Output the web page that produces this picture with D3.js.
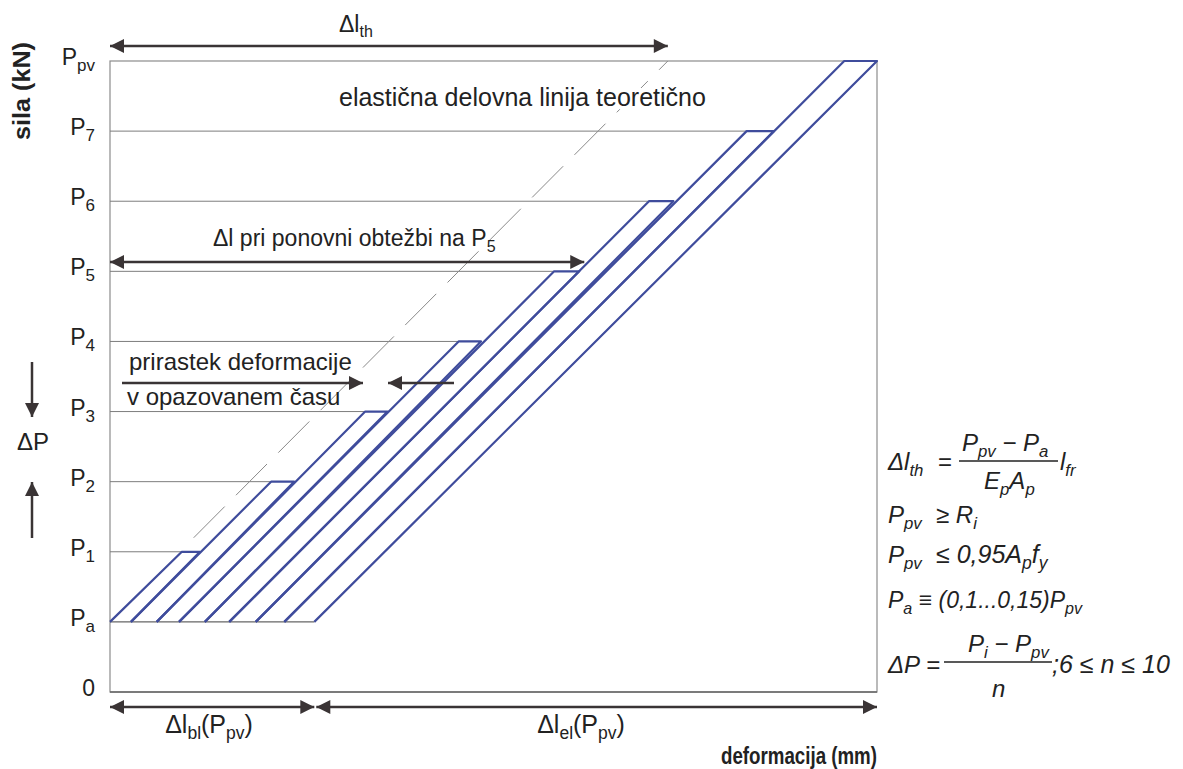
<!DOCTYPE html>
<html>
<head>
<meta charset="utf-8">
<script src="https://cdn.jsdelivr.net/npm/d3@7"></script>
<style>
  body { margin: 0; background: #fff; }
  svg text { font-family: "Liberation Sans", Arial, sans-serif; fill: #222; }
</style>
</head>
<body>
<svg width="1183" height="769"></svg>
<script>
// force levels on the vertical axis, bottom to top
const levelMain = ["0", "P", "P", "P", "P", "P", "P", "P", "P", "P"];
const levelSub  = ["",  "a", "1", "2", "3", "4", "5", "6", "7", "pv"];

// deformation at Pa where each reloading starts
const feet = [0, 0.30, 0.67, 0.99, 1.36, 1.71, 2.09, 2.50, 2.93];
// plateau at the top of each load step
const holdLevel = [2, 3, 4, 5, 6, 7, 8, 9];
const holdStart = [1.03, 2.31, 3.66, 5.00, 6.37, 7.73, 9.13, 10.53];
const holdEnd   = [1.29, 2.64, 3.98, 5.32, 6.73, 8.08, 9.52, 11.0];

// theoretical elastic line (dashed)
const elasticX = [1.2, 8];
const elasticY = [2.2, 9];

const svg = d3.select("svg");
const x = d3.scaleLinear().domain([0, 11]).range([110, 877]);
const y = d3.scaleLinear().domain([0, 9]).range([692, 61]);

const blue = "#3f4c9c";
const dark = "#3a3435";

svg.append("defs").append("marker")
  .attr("id", "head")
  .attr("viewBox", "0 0 10 10")
  .attr("refX", 10).attr("refY", 5)
  .attr("markerUnits", "userSpaceOnUse")
  .attr("markerWidth", 21).attr("markerHeight", 14)
  .attr("orient", "auto-start-reverse")
  .append("path").attr("d", "M0,0L10,5L0,10Z").attr("fill", dark);

function arrow(x1, x2, yy, both) {
  const l = svg.append("line")
    .attr("x1", x1).attr("x2", x2).attr("y1", yy).attr("y2", yy)
    .attr("stroke", dark).attr("stroke-width", 2.5)
    .attr("marker-end", "url(#head)");
  if (both) l.attr("marker-start", "url(#head)");
}

function vArrow(xx, y1, y2) {
  svg.append("line")
    .attr("x1", xx).attr("x2", xx).attr("y1", y1).attr("y2", y2)
    .attr("stroke", dark).attr("stroke-width", 2.5)
    .attr("marker-end", "url(#head)");
}

// frame
svg.append("rect")
  .attr("x", x(0)).attr("y", y(9))
  .attr("width", x(11) - x(0)).attr("height", y(0) - y(9))
  .attr("fill", "none").attr("stroke", "#8c8c8c").attr("stroke-width", 1.2);
svg.append("line")
  .attr("x1", x(0)).attr("x2", x(11)).attr("y1", y(0)).attr("y2", y(0))
  .attr("stroke", "#666").attr("stroke-width", 1.6);

// level lines from the axis to the plateau
svg.selectAll(".lvl").data(holdLevel.slice(0, 7)).join("line")
  .attr("x1", x(0)).attr("x2", (d, i) => x(holdStart[i]))
  .attr("y1", d => y(d)).attr("y2", d => y(d))
  .attr("stroke", "#7d7d7d").attr("stroke-width", 1);
svg.append("line")
  .attr("x1", x(0)).attr("x2", x(feet[feet.length - 1]))
  .attr("y1", y(1)).attr("y2", y(1))
  .attr("stroke", "#666").attr("stroke-width", 1.4);

// dashed theoretical line
svg.append("line")
  .attr("x1", x(elasticX[0])).attr("y1", y(elasticY[0]))
  .attr("x2", x(elasticX[1])).attr("y2", y(elasticY[1]))
  .attr("stroke", "#8a8a8a").attr("stroke-width", 1)
  .attr("stroke-dasharray", "44 16");

// loading / unloading cycles
const line = d3.line().x(d => x(d[0])).y(d => y(d[1]));
holdLevel.forEach((L, i) => {
  const pts = [[feet[i], 1], [holdStart[i], L], [holdEnd[i], L], [feet[i + 1], 1]];
  svg.append("path").attr("d", line(pts))
    .attr("fill", "none").attr("stroke", blue).attr("stroke-width", 2.2)
    .attr("stroke-linejoin", "round");
});

// axis labels with subscripts
const yl = svg.selectAll(".ylab").data(levelMain).join("text")
  .attr("x", 95).attr("y", (d, i) => y(i) + 4)
  .attr("text-anchor", "end").attr("font-size", 23);
yl.append("tspan").text(d => d);
yl.append("tspan").attr("font-size", 17).attr("dy", 6).text((d, i) => levelSub[i]);

svg.append("text")
  .attr("transform", "translate(30,91) rotate(-90)")
  .attr("text-anchor", "middle").attr("font-size", 23).attr("font-weight", "bold")
  .attr("textLength", 98).attr("lengthAdjust", "spacingAndGlyphs")
  .text("sila (kN)");
svg.append("text")
  .attr("x", 877).attr("y", 764).attr("text-anchor", "end")
  .attr("font-size", 24).attr("font-weight", "bold")
  .attr("textLength", 156).attr("lengthAdjust", "spacingAndGlyphs")
  .text("deformacija (mm)");

// ΔP with arrows on the left
vArrow(32, 362, 417);
vArrow(32, 538, 482);
svg.append("text").attr("x", 17).attr("y", 450).attr("font-size", 24).text("ΔP");

// top Δl_th
arrow(x(0), x(elasticX[1]), 46, true);
const th = svg.append("text").attr("x", 339).attr("y", 32).attr("font-size", 23);
th.append("tspan").text("Δl");
th.append("tspan").attr("font-size", 16).attr("dy", 5).text("th");

// elastic line label
svg.append("text").attr("x", 339).attr("y", 106).attr("font-size", 25)
  .attr("stroke", "#fff").attr("stroke-width", 8).attr("paint-order", "stroke")
  .text("elastična delovna linija teoretično");

// reload to P5
arrow(x(0), x(holdEnd[4]) + 5, 262, true);
const p5 = svg.append("text").attr("x", 213).attr("y", 246).attr("font-size", 23);
p5.append("tspan").text("Δl pri ponovni obtežbi na P");
p5.append("tspan").attr("font-size", 16).attr("dy", 6).text("5");

// deformation increment
svg.append("text").attr("x", 129).attr("y", 370).attr("font-size", 24).text("prirastek deformacije");
svg.append("text").attr("x", 127).attr("y", 405).attr("font-size", 24).text("v opazovanem času");
arrow(122, 363, 383, false);
arrow(454, 388, 383, false);

// bottom arrows
arrow(x(0), x(feet[feet.length - 1]), 707, true);
arrow(x(feet[feet.length - 1]) + 2, x(11), 707, true);

function subLabel(xx, yy, parts, size) {
  const t = svg.append("text").attr("x", xx).attr("y", yy).attr("font-size", size);
  let shifted = false;
  parts.forEach(p => {
    const s = t.append("tspan").text(p[0]);
    if (p[1] && !shifted) { s.attr("font-size", size * 0.7).attr("dy", 6); shifted = true; }
    else if (!p[1] && shifted) { s.attr("dy", -6); shifted = false; }
    else if (p[1]) s.attr("font-size", size * 0.7);
  });
  return t;
}
subLabel(209, 733, [["Δl"], ["bl", 1], ["(P"], ["pv", 1], [")"]], 25).attr("text-anchor", "middle");
subLabel(581, 733, [["Δl"], ["el", 1], ["(P"], ["pv", 1], [")"]], 25).attr("text-anchor", "middle");

// formulas on the right
const fs = 24;
function formula(xx, yy, parts, size) {
  const t = subLabel(xx, yy, parts, size || fs);
  t.attr("font-style", "italic");
  return t;
}
function bar(x1, x2, yy) {
  svg.append("line").attr("x1", x1).attr("x2", x2).attr("y1", yy).attr("y2", yy)
    .attr("stroke", "#222").attr("stroke-width", 1.4);
}
formula(888, 470, [["Δl"], ["th", 1]]);
svg.append("text").attr("x", 938).attr("y", 470).attr("font-size", fs).text("=");
formula(962, 451, [["P"], ["pv", 1], [" − P"], ["a", 1]]);
bar(959, 1058, 461);
formula(984, 489, [["E"], ["p", 1], ["A"], ["p", 1]]);
formula(1060, 470, [["l"], ["fr", 1]]);

formula(888, 523, [["P"], ["pv", 1]]);
formula(936, 523, [["≥ R"], ["i", 1]]);
formula(888, 563, [["P"], ["pv", 1]]);
formula(936, 563, [["≤ 0,95A"], ["p", 1], ["f"], ["y", 1]], 25);
formula(888, 608, [["P"], ["a", 1], [" ≡ (0,1...0,15)P"], ["pv", 1]], 23);

formula(888, 673, [["ΔP = "]]);
formula(968, 652, [["P"], ["i", 1], [" − P"], ["pv", 1]]);
bar(944, 1052, 662);
formula(992, 697, [["n"]]);
formula(1052, 673, [[";6 ≤ n ≤ 10"]], 25);
</script>
</body>
</html>
